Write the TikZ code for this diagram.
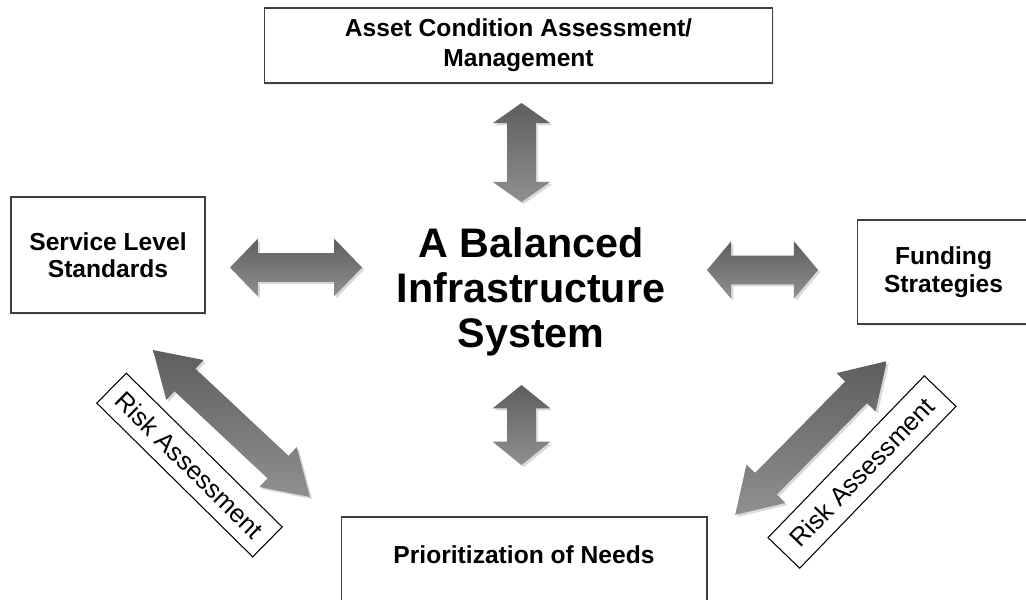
\documentclass[tikz,border=0pt]{standalone}
\usepackage{fontspec}
\setmainfont{Liberation Sans}
\usetikzlibrary{shapes.arrows,shadows}

\definecolor{arrowdark}{HTML}{5E5E5E}
\definecolor{arrowlight}{HTML}{909090}

\tikzset{
  topic/.style={draw=black!75, line width=0.6pt, fill=white, align=center,
    font=\bfseries\fontsize{14pt}{16pt}\selectfont,
    drop shadow={opacity=0.15, shadow xshift=0.6pt, shadow yshift=-1.2pt}},
  risk/.style={draw=black, line width=0.6pt, fill=white, inner sep=0pt,
    font=\fontsize{14.5pt}{16pt}\selectfont},
  twoway/.style={double arrow, draw=none, inner sep=0.28cm,
    double arrow head extend=0.29cm, minimum width=1.14cm,
    top color=arrowdark, bottom color=arrowlight,
    drop shadow={opacity=0.3, shadow xshift=1.2pt, shadow yshift=-1.2pt}}
}

\begin{document}
\begin{tikzpicture}[x=0.02cm, y=-0.02cm]
  \useasboundingbox (0,0) rectangle (1026,599);
  \clip (0,0) rectangle (1026,599);

  % boxes round the centre
  \node[topic, minimum width=10.18cm, minimum height=1.5cm, font=\bfseries\fontsize{14pt}{17pt}\selectfont]
    (asset) at (518.5,45.5) {Asset Condition Assessment/\\Management};
  \node[topic, minimum width=3.88cm, minimum height=2.32cm, font=\bfseries\fontsize{14pt}{15.5pt}\selectfont]
    (service) at (108,255) {Service Level\\Standards};
  \node[topic, minimum width=3.46cm, minimum height=2.08cm]
    (funding) at (943.5,272) {Funding\\Strategies};
  \node[topic, minimum width=7.32cm, minimum height=1.76cm, text height=10pt, text depth=7pt]
    (needs) at (524,561) {Prioritization of Needs};

  \node[align=center, font=\bfseries\fontsize{23.5pt}{25.5pt}\selectfont]
    (balanced) at (531,292) {A Balanced\\Infrastructure\\System};

  % block arrows
  \node[twoway, rotate=90, minimum height=1.98cm, double arrow tip angle=110] (uparr) at (521.5,152.5) {};
  \node[twoway, rotate=90, minimum height=1.6cm, double arrow tip angle=102] (downarr) at (521.5,425) {};
  \node[twoway, minimum height=2.64cm, double arrow tip angle=92] (leftarr) at (296,267.5) {};
  \node[twoway, minimum height=2.22cm, double arrow tip angle=100] (rightarr) at (762.5,270) {};
  \node[twoway, rotate=-43.1, minimum height=4.3cm, minimum width=1.08cm, inner sep=0.3cm,
    double arrow head extend=0.24cm, double arrow tip angle=64] (leftdiag) at (231.5,423.5) {};
  \node[twoway, rotate=45.4, minimum height=4.32cm, minimum width=1.08cm, inner sep=0.3cm,
    double arrow head extend=0.24cm, double arrow tip angle=64] (rightdiag) at (811,438) {};

  % risk labels
  \node[risk, rotate=-44.6, minimum width=4.38cm, minimum height=0.84cm] (riskleft) at (189.5,465) {Risk Assessment};
  \node[risk, rotate=46, minimum width=4.5cm, minimum height=0.88cm] (riskright) at (862,472) {Risk Assessment};
\end{tikzpicture}
\end{document}
